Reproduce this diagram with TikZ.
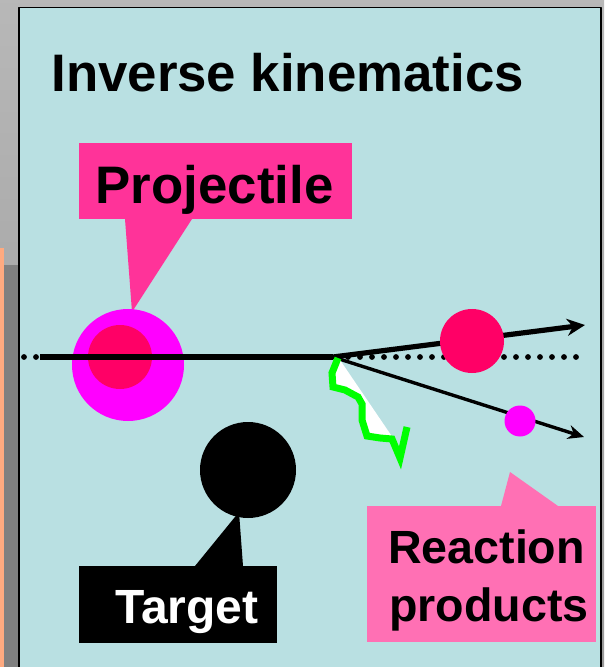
\documentclass[tikz,border=0pt]{standalone}
\usepackage{fontspec}
\setmainfont{Liberation Sans}
\usetikzlibrary{arrows.meta}
\definecolor{slideblue}{HTML}{B9E0E2}
\definecolor{projpink}{HTML}{FF3399}
\definecolor{prodpink}{HTML}{FF70B4}
\definecolor{nucred}{HTML}{FF0066}
\definecolor{nucmag}{HTML}{FF00FF}
\definecolor{gammagreen}{HTML}{00FF00}
\definecolor{edgeorange}{HTML}{FFAA80}
\begin{document}
\begin{tikzpicture}[x=.5pt, y=-.5pt, line join=round, >=Stealth,
  lbl/.style={inner sep=0pt, anchor=base, font=\bfseries},
  ball/.style={circle, inner sep=0pt, outer sep=0pt},
  tag/.style={rectangle, inner sep=0pt, outer sep=0pt}]
\useasboundingbox (0,0) rectangle (604,667);
\clip (0,0) rectangle (604,667);
% slide behind and frame
\shade[top color=black!28, bottom color=black!40] (0,0) rectangle (604,667);
\fill[edgeorange] (0,248) rectangle (4,667);
\fill[black!50] (4,265) rectangle (19,667);
\filldraw[fill=slideblue, line width=.8pt] (19,7.5) rectangle (601,700);
\node[lbl, anchor=base west, font=\fontsize{26.4}{30}\bfseries] (title) at (51,92) {Inverse kinematics};

% projectile
\fill[projpink] (125,219) -- (192,219) -- (132,312) -- cycle;
\node[tag, fill=projpink, minimum width=136.5pt, minimum height=38pt] (projbox) at (215.5,181) {};
\node[lbl, font=\fontsize{26.4}{30}\bfseries] (projtext) at (214.5,204) {Projectile};
\node[ball, fill=nucmag, minimum size=56pt] (proj) at (128,365) {};
\node[ball, fill=nucred, minimum size=32pt] (projcore) at (120,357) {};

% beam axis and outgoing tracks
\coordinate (beamin) at (40,357);
\coordinate (hit) at (333,357);
\coordinate (heavyend) at (585,325);
\coordinate (lightend) at (584,437);
\draw[line width=2.9pt, line cap=round, dash pattern=on 0pt off 6pt] (24,357) -- (580,357);
\draw[line width=2.8pt] (beamin) -- (hit);
\draw[line width=2.6pt, -{Stealth[length=9pt, width=8.5pt]}] (hit) -- (heavyend);
\draw[line width=1.7pt, -{Stealth[length=8pt, width=7pt]}] (hit) -- (lightend);

% gamma ray
\fill[white] (340,360) -- (393,438) -- (367,436) -- (362,420) -- (362,403)
  -- (345,390) -- (333,387) -- (332,373) -- cycle;
\draw[gammagreen, line width=3.5pt, line join=miter]
  (338,358) -- (332,373) -- (333,387) -- (345,390) -- (358,397) -- (362,404)
  -- (362,420) -- (367,436) -- (380,438) -- (392,439) -- (400,458) -- (407,427);

% reaction products
\node[ball, fill=nucred, minimum size=32pt] (heavy) at (472,341) {};
\node[ball, fill=nucmag, minimum size=15.5pt] (light) at (520,421) {};

% target
\node[ball, fill=black, minimum size=48pt] (target) at (248,470) {};
\fill[black] (195,566) -- (243,566) -- (239,512) -- cycle;
\node[tag, fill=black, minimum width=99pt, minimum height=38.5pt] (targetbox) at (178,604.5) {};
\node[lbl, white, font=\fontsize{24}{28}\bfseries] (targettext) at (187,623) {Target};

% products label
\fill[prodpink] (501,506) -- (558,506) -- (510,472) -- cycle;
\node[tag, fill=prodpink, minimum width=114.5pt, minimum height=68pt] (prodbox) at (481.5,574) {};
\node[lbl, font=\fontsize{23.3}{28}\bfseries] (prodtext1) at (486.5,563) {Reaction};
\node[lbl, font=\fontsize{23.3}{28}\bfseries] (prodtext2) at (489,621) {products};
\end{tikzpicture}
\end{document}
